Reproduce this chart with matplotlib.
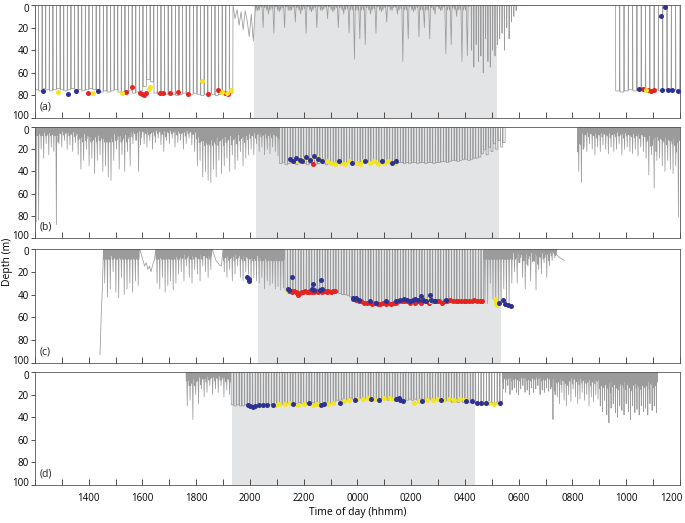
import numpy as np
import matplotlib
matplotlib.use("Agg")
import matplotlib.pyplot as plt
import matplotlib.transforms as mtrans

# ---------------- data (hours since midnight of day 1; >24 = next day) ----------------
HOUR_TICKS = list(range(12, 37))
HOUR_LABELS = [h for h in range(14, 37, 2)]
NIGHT = {"a": (20.16, 29.2), "b": (20.23, 29.28), "c": (20.3, 29.34), "d": (19.33, 28.39)}
PANEL_LETTERS = ["(a)", "(b)", "(c)", "(d)"]
DEPTH_TICKS = [0, 20, 40, 60, 80, 100]

# dive bouts: (start, end, mode, depths, near-surface band depth)
# B = at depth w/ surfacings, S = at surface w/ dives, P = vertices, G = no data
A_DAY = [75, 76, 74, 75, 76, 75, 74, 75, 76, 75, 74, 75, 75, 76, 75, 74, 75, 76, 77, 76,
         77, 76, 75, 77, 78, 77, 76, 78, 77, 76, 72, 66, 68, 78, 79, 78, 79, 78, 79, 80,
         79, 78, 80, 79, 78, 79, 80, 79, 78, 79, 80, 79, 78, 79, 78]
A_DUSK = [0, 12, 4, 18, 6, 22, 5, 14, 28, 8, 32, 3]
A_NIGHT = [5, 20, 8, 25, 6, 20, 5, 15, 8, 25, 6, 20, 5, 12, 6, 20, 8, 25, 48, 30,
           35, 8, 25, 6, 15, 5, 8, 50, 30, 6, 28, 20, 30, 8, 5, 43, 35, 10, 50, 45]
A_DAWN = [40, 55, 35, 50, 45, 60, 30, 50, 55, 40, 45, 35, 30, 25, 40, 20, 30, 15, 10, 5]
A_MORN = [76, 77, 76, 75, 76, 75, 74, 75, 76, 75, 76, 75, 76, 75, 76]
A_BOUTS = [(12.0, 19.37, "B", A_DAY, 0), (19.37, 20.2, "P", A_DUSK, 0),
           (20.2, 28.2, "S", A_NIGHT, 3), (28.2, 29.95, "S", A_DAWN, 0),
           (29.95, 30.3, "P", [0, 0], 0), (30.3, 33.6, "G", [], 0),
           (33.6, 36.0, "B", A_MORN, 0)]

B_START = [86, 84, 20, 28, 15, 25, 18, 22, 88]
B_DAY1 = [15, 18, 12, 20, 16, 22, 14,
          25, 38, 30, 20, 35, 28, 42, 30, 25, 40, 35, 45, 48,
          30, 20, 38, 25, 40, 22, 35]
B_DAY2 = [15, 12, 40, 10, 15, 18, 12, 20, 14, 10, 16, 22, 12, 15, 10, 18, 14, 12, 20, 15,
          10, 16, 22]
B_DAY3 = [35, 30, 45, 40, 48, 50, 38, 45, 30, 42, 35, 28, 40, 25, 38, 30, 22, 35, 28, 25,
          20, 25, 15, 22, 18, 25, 20, 24, 18, 22, 26]
B_NIGHT = [33, 32, 34, 33, 32, 33, 34, 33, 32, 33, 34, 33, 32, 34, 33, 32, 33, 34, 33,
           33, 32, 33, 33, 32, 33, 32, 33, 33, 32, 32, 33, 32, 32, 33, 32, 32, 33, 32, 32,
           32, 33, 32, 32, 33, 32, 32, 33, 32, 33, 32, 32, 33, 32, 32, 33, 32, 32, 33, 32,
           32, 31, 31, 32, 31, 30, 30, 31, 30, 29, 29, 30, 29, 28, 28, 27]
B_DAWN = [24, 20, 25, 18, 22, 15, 20, 12, 18, 14]
B_MORN = [40, 50, 18, 22, 15, 20, 25, 18, 22, 16, 20, 24, 18, 22, 20, 15, 25, 20, 18, 22,
          24, 20, 26, 18, 22, 28, 43, 25, 55, 30, 28, 35, 40, 30, 38, 42, 35, 81]
B_BOUTS = [(12.0, 12.85, "S", B_START, 5), (12.85, 15.6, "S", B_DAY1, 9),
           (15.6, 18.0, "S", B_DAY2, 14), (18.0, 21.1, "S", B_DAY3, 11),
           (21.1, 28.6, "B", B_NIGHT, 0), (28.6, 29.5, "B", B_DAWN, 0),
           (29.5, 32.19, "G", [], 0), (32.19, 36.0, "S", B_MORN, 15)]

C_FIRST = [93, 60, 35, 0]
C_DAY1 = [30, 42, 35, 20, 38, 43, 25, 40, 35, 30, 38, 28, 32]
C_CURVE1 = [0, 5, 10, 15, 12, 18, 15, 20, 14, 10, 0]
C_DAY2 = [30, 35, 25, 38, 32, 28, 36, 30, 22]
C_DAY3 = [20, 28, 15, 25, 30, 18, 22, 28, 15, 20, 25, 18]
C_CURVE2 = [0, 5, 10, 12, 14, 15, 0]
C_DAY4 = [20, 25, 18, 28, 22, 15, 25, 28, 20, 22, 30, 25, 28]
C_DUSK = [30, 25, 35, 28, 32, 30, 35, 33, 36, 34]
C_NIGHT1 = [36, 37, 36, 37, 38, 37, 38, 39, 38, 37, 38, 37, 38, 37, 36, 37, 38, 37, 38, 38,
            39, 40, 40, 41, 42]
C_NIGHT2 = [43, 44, 45, 45, 46, 46, 47, 47, 47, 48, 47, 47, 46, 47, 47, 48, 47, 46, 47, 46,
            46, 45, 46, 46, 45, 46, 46, 45, 46, 46, 47, 46, 46, 45, 46, 46, 45, 46, 46, 47,
            46, 46, 45, 46, 46, 47, 46, 46, 45]
C_DAWN = [45, 48, 30, 44, 50, 46, 48, 35, 47, 50, 30]
C_MORN = [20, 30, 12, 25, 35, 15, 28, 10, 36, 18, 22, 12, 25, 15, 10, 8]
C_BOUTS = [(12.0, 14.42, "G", [], 0), (14.42, 14.55, "P", C_FIRST, 0),
           (14.55, 15.9, "S", C_DAY1, 6), (15.9, 16.5, "P", C_CURVE1, 0),
           (16.5, 17.4, "S", C_DAY2, 6), (17.4, 18.6, "S", C_DAY3, 6),
           (18.6, 19.0, "P", C_CURVE2, 0), (19.0, 20.3, "S", C_DAY4, 7),
           (20.3, 21.3, "S", C_DUSK, 7), (21.3, 23.8, "B", C_NIGHT1, 0),
           (23.8, 28.7, "B", C_NIGHT2, 0), (28.7, 29.8, "S", C_DAWN, 6),
           (29.8, 31.4, "S", C_MORN, 9), (31.4, 31.7, "P", [5, 8, 10], 0)]

D_DUSK = [30, 25, 42, 20, 28, 15, 22, 18, 12, 20, 15, 18, 12, 22, 16, 20]
D_NIGHT = [29, 30, 29, 30, 30, 29, 30, 31, 30, 29, 30, 30, 29, 30, 29, 29, 30, 29, 29,
           28, 29, 28, 28, 29, 28, 27, 28, 29, 28, 28, 27, 28, 29, 28, 28, 27, 28, 28,
           26, 25, 25, 24, 25, 24, 23, 24, 23, 24, 23, 23, 24, 23, 24, 23, 25, 24, 23, 24, 25, 24,
           25, 26, 24, 25, 26, 25, 24, 25, 24, 25, 24, 25, 24, 25, 24, 25, 25, 24, 25, 26, 25,
           26, 27, 26, 27, 26, 27, 28, 27, 27, 28, 27, 28, 27, 28, 27, 28, 27, 27, 28, 27]
D_MORN1 = [15, 18, 12, 20, 16, 14, 18, 20, 15, 12, 18, 16, 20, 14, 18, 15, 12, 20, 16, 18,
           14, 17, 15, 42, 20]
D_MORN2 = [22, 28, 18, 25, 30, 20, 26, 15, 22, 28, 24, 18, 25, 20, 30, 22, 26, 20, 24]
D_MORN3 = [30, 35, 25, 38, 45, 32, 28, 36, 40, 30, 34, 38, 28, 35, 42, 30, 36, 33, 38, 30, 35,
           32, 38, 28, 34, 30, 36]
D_BOUTS = [(12.0, 17.62, "G", [], 0), (17.62, 19.3, "S", D_DUSK, 8),
           (19.3, 29.4, "B", D_NIGHT, 0), (29.4, 31.4, "S", D_MORN1, 12),
           (31.4, 33.0, "S", D_MORN2, 14), (33.0, 35.17, "S", D_MORN3, 16)]

# detection dots (time h, depth m) per colour
A_NAVY_T = [12.30, 13.23, 13.53, 14.35, 34.46, 35.35, 35.54, 35.72, 35.91, 35.28, 35.46]
A_NAVY_D = [76, 79, 76, 76, 74, 75, 75, 75, 76, 10, 2]
A_YEL_T = [12.86, 14.16, 15.24, 16.25, 16.29, 18.22, 18.96, 19.15, 19.30, 34.72]
A_YEL_D = [77, 78, 78, 74, 73, 67, 77, 78, 75, 75]
A_RED_T = [13.97, 15.39, 15.61, 15.91, 15.99, 16.06, 16.13, 16.66, 16.77, 17.03, 17.33, 17.70,
           18.44, 18.82, 19.08, 19.19, 34.61, 34.83, 34.94, 35.02]
A_RED_D = [78, 77, 73, 78, 79, 80, 78, 78, 78, 78, 77, 79, 79, 75, 78, 79, 74, 75, 76, 75]

B_NAVY_T = [21.50, 21.60, 21.72, 21.85, 21.95, 22.10, 22.25, 22.40, 22.55, 22.70, 23.30, 23.80,
            24.30, 24.90, 25.30, 25.45]
B_NAVY_D = [29, 31, 28, 30, 31, 27, 30, 26, 29, 31, 31, 32, 31, 31, 32, 31]
B_YEL_T = [21.55, 21.78, 22.00, 22.30, 22.48, 22.62, 22.85, 23.00, 23.15, 23.40, 23.55, 23.70,
           23.95, 24.10, 24.20, 24.45, 24.60, 24.75, 25.00, 25.15, 25.40]
B_YEL_D = [30, 31, 29, 28, 27, 30, 31, 32, 33, 32, 33, 31, 32, 33, 31, 32, 31, 33, 32, 31, 32]
B_RED_T = [22.35]
B_RED_D = [33]

C_RED_T = [21.42, 21.47, 21.52, 21.58, 21.63, 21.70, 21.75, 21.80, 21.86, 21.92, 21.98, 22.05,
           22.12, 22.18, 22.25, 22.32, 22.40, 22.47, 22.55, 22.62, 22.70, 22.78, 22.85, 22.92,
           23.00, 23.08, 23.15,
           23.85, 23.95, 24.05, 24.15, 24.25, 24.35, 24.45, 24.55, 24.65, 24.75, 24.85, 24.95,
           25.05, 25.15, 25.25, 25.35, 25.45, 25.55, 25.65, 25.75, 25.85, 25.95, 26.05, 26.15,
           26.25, 26.35, 26.45, 26.55, 26.65, 26.75, 26.85, 26.95, 27.05, 27.15, 27.25, 27.35,
           27.45, 27.55, 27.65, 27.75, 27.85, 27.95, 28.05, 28.15, 28.25, 28.35, 28.45, 28.55, 28.65]
C_RED_D = [36, 37, 37, 38, 37, 38, 39, 40, 39, 38, 38, 37, 38, 38, 37, 38, 38, 37, 38, 37, 38,
           37, 38, 37, 38, 37, 37,
           44, 45, 46, 46, 47, 47, 47, 48, 47, 48, 48, 47, 48, 47, 48, 47, 47, 46, 46, 46, 46,
           47, 46, 47, 46, 47, 46, 46, 47, 46, 46, 46, 46, 47, 46, 46, 45, 46, 46, 46, 46, 46,
           46, 46, 46, 45, 46, 46, 46]
C_NAVY_T = [19.90, 19.95, 19.97, 21.40, 21.45, 21.55, 22.30, 22.35, 22.40, 22.60, 22.65, 22.70,
            23.82, 23.88, 23.95, 24.05, 24.45, 24.70, 25.05, 25.45, 25.60, 25.75, 25.85, 25.95,
            26.05, 26.15, 26.25, 26.35, 26.45, 26.55, 26.70, 26.75, 26.90, 27.30, 29.25, 29.40,
            29.50, 29.60, 29.70]
C_NAVY_D = [25, 28, 26, 35, 36, 25, 35, 31, 36, 36, 27, 35, 43, 44, 43, 45, 46, 47, 46, 46,
            45, 44, 45, 46, 45, 44, 45, 41, 45, 46, 40, 45, 46, 45, 47, 45, 48, 49, 50]
C_YEL_T = [21.38, 26.55, 26.70, 29.12, 29.15, 29.20]
C_YEL_D = [36, 45, 46, 44, 47, 49]

D_NAVY_T = [19.92, 20.00, 20.10, 20.20, 20.35, 20.50, 20.65, 20.85, 21.60, 22.20, 22.65, 22.75,
            23.35, 23.90, 24.50, 24.80, 25.45, 25.55, 25.60, 25.70, 26.40, 27.10, 28.05, 28.25,
            28.45, 28.60, 28.80, 29.30]
D_NAVY_D = [29, 30, 31, 30, 29, 29, 29, 29, 28, 27, 29, 28, 27, 25, 24, 25, 24, 23, 25, 26,
            26, 25, 26, 26, 27, 27, 27, 27]
D_YEL_T = [20.95, 21.10, 21.30, 21.50, 21.80, 22.00, 22.35, 22.50, 22.90, 23.10, 23.50, 23.70,
           24.00, 24.20, 24.40, 24.60, 25.00, 25.20, 25.35, 26.10, 26.30, 26.60, 26.80, 27.00,
           27.20, 27.40, 27.60, 27.80, 28.00, 28.70, 28.90, 29.10, 29.25]
D_YEL_D = [29, 28, 28, 27, 29, 28, 29, 28, 28, 27, 26, 25, 24, 24, 23, 24, 23, 23, 24, 27,
           26, 25, 25, 24, 25, 24, 25, 24, 25, 27, 27, 28, 27]

PANELS = [
    ("a", A_BOUTS, (A_RED_T, A_RED_D), (A_YEL_T, A_YEL_D), (A_NAVY_T, A_NAVY_D)),
    ("b", B_BOUTS, (B_RED_T, B_RED_D), (B_YEL_T, B_YEL_D), (B_NAVY_T, B_NAVY_D)),
    ("c", C_BOUTS, (C_RED_T, C_RED_D), (C_YEL_T, C_YEL_D), (C_NAVY_T, C_NAVY_D)),
    ("d", D_BOUTS, ([], []), (D_YEL_T, D_YEL_D), (D_NAVY_T, D_NAVY_D)),
]

# ---------------- helpers ----------------
def build_profile(bouts):
    T, D = [], []
    for t0, t1, mode, depths, band in bouts:
        if mode == "G":
            T.append(t0); D.append(np.nan)
            continue
        n = len(depths)
        if mode == "P":
            T.extend(np.linspace(t0, t1, n)); D.extend(depths)
            continue
        edges = np.linspace(t0, t1, n + 1)
        for i, d in enumerate(depths):
            a, b = edges[i], edges[i + 1]
            w = b - a
            if mode == "B":
                T += [a, a + 0.06 * w, b - 0.06 * w]
                D += [0, d, d]
            elif band > 0:
                # near-surface wiggles, scaled by neighbouring dives, capped by the band depth
                w1 = min(band * 1.5, 0.4 * depths[i - 1])
                w2 = min(band * 1.5, 0.3 * depths[(i + 1) % n])
                T += [a, a + 0.12 * w, a + 0.25 * w, a + 0.45 * w, a + 0.6 * w, a + 0.75 * w, a + 0.88 * w]
                D += [0, w1, 0, d, 0, w2, 0]
            else:
                T += [a, a + 0.4 * w, a + 0.5 * w, a + 0.6 * w]
                D += [0, 0, d, 0]
        T.append(t1); D.append(0)
    return np.array(T), np.array(D)

RED, YEL, NAVY = "#e52421", "#f3e620", "#2e3192"
LINE = "#9b9b9b"
SHADE = "#e3e4e6"

plt.rcParams["font.family"] = ["Open Sans", "DejaVu Sans"]
fig = plt.figure(figsize=(6.85, 5.23), dpi=100)
bottoms = [0.7744, 0.545, 0.306, 0.0727]
heights = [0.216, 0.212, 0.218, 0.216]
for i, (key, bouts, red, yel, navy) in enumerate(PANELS):
    ax = fig.add_axes([0.051, bottoms[i], 0.9416, heights[i]])
    n0, n1 = NIGHT[key]
    ax.axvspan(n0, n1, color=SHADE, lw=0, zorder=0)
    T, D = build_profile(bouts)
    ax.plot(T, D, color=LINE, lw=0.55, zorder=2)
    for (tt, dd), col in ((red, RED), (yel, YEL), (navy, NAVY)):
        if len(tt):
            ax.scatter(tt, dd, s=13, color=col, lw=0, zorder=3)
    ax.set_xlim(12, 36)
    ax.set_ylim(100, 0)
    ax.set_yticks(DEPTH_TICKS)
    ax.set_yticklabels([str(v) for v in DEPTH_TICKS])
    ax.set_xticks(HOUR_TICKS)
    ax.tick_params(axis="x", direction="in", length=4, width=0.6, color="#333333",
                   labelsize=7, pad=6)
    ax.tick_params(axis="y", direction="out", length=3, width=0.6, color="#333333",
                   labelsize=7, pad=1.5)
    ylabs = ax.get_yticklabels()
    ylabs[0].set_transform(ylabs[0].get_transform() + mtrans.ScaledTranslation(0, -1.8 / 72, fig.dpi_scale_trans))
    ylabs[-1].set_transform(ylabs[-1].get_transform() + mtrans.ScaledTranslation(0, 1.8 / 72, fig.dpi_scale_trans))
    if i < 3:
        ax.set_xticklabels([])
    else:
        ax.set_xticklabels(["%02d00" % (h % 24) if h in HOUR_LABELS else "" for h in HOUR_TICKS])
        last = ax.get_xticklabels()[-1]
        last.set_horizontalalignment("right")
        last.set_transform(last.get_transform() + mtrans.ScaledTranslation(2 / 72, 0, fig.dpi_scale_trans))
    for s in ax.spines.values():
        s.set_linewidth(0.6)
        s.set_color("#555555")
    ax.text(0.008, 0.1, PANEL_LETTERS[i], transform=ax.transAxes, fontsize=7.5, ha="left",
            va="center", color="#222222")

fig.text(0.011, 0.5, "Depth (m)", rotation=90, ha="center", va="center", fontsize=7.5)
fig.text(0.522, 0.02, "Time of day (hhmm)", ha="center", va="center", fontsize=7.5)
fig.savefig("out.png", dpi=100)
